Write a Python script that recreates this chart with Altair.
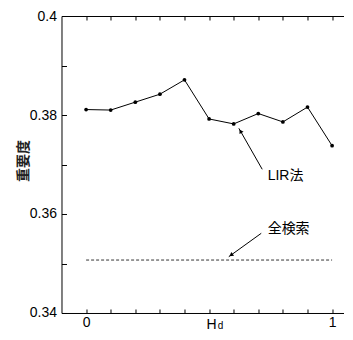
import altair as alt
import pandas as pd

# ---- data ----
hd = [0.0, 0.1, 0.2, 0.3, 0.4, 0.5, 0.6, 0.7, 0.8, 0.9, 1.0]
lir = [0.3811, 0.3810, 0.3826, 0.3842, 0.3871, 0.3792, 0.3782, 0.3803, 0.3786, 0.3816, 0.3738]
full_x = [0.0, 1.0]
full_y = [0.3507, 0.3507]

x_tick_values = [0.0, 0.1, 0.2, 0.3, 0.4, 0.5, 0.6, 0.7, 0.8, 0.9, 1.0]
x_label_values = [0, 1]
y_tick_values = [0.34, 0.35, 0.36, 0.37, 0.38, 0.39, 0.40]
y_label_values = [0.34, 0.36, 0.38, 0.40]

ann_text = ["LIR法", "全検索"]
ann_text_x = [0.738, 0.738]
ann_text_y = [0.36758, 0.35707]
arrow_tail_x = [0.716, 0.712]
arrow_tail_y = [0.36903, 0.3561]
arrow_tip_x = [0.621, 0.580]
arrow_tip_y = [0.37731, 0.35137]
arrow_angle = [330, 234]

x_title_parts = ["H", "d"]
x_title_x = [0.4898, 0.535]
x_title_y = [0.33677, 0.33677]
x_title_size = [14, 10]

y_title = ["重要度"]
y_title_x = [-0.252]
y_title_y = [0.3707]

# ---- layout ----
W = 1.15 * 246
H = 297
FONT = "Liberation Sans"
MIXED = "Liberation Sans, Noto Sans CJK JP"

xs = alt.Scale(domain=[-0.1, 1.05], nice=False, zero=False)
ys = alt.Scale(domain=[0.34, 0.40], nice=False, zero=False)

df = pd.DataFrame({"hd": hd, "lir": lir})
df_full = pd.DataFrame({"x": [full_x[0]], "x2": [full_x[1]], "y": [full_y[0]]})

head_frac = 0.07
df_arrow = pd.DataFrame({
    "x": arrow_tail_x, "y": arrow_tail_y,
    "x2": arrow_tip_x, "y2": arrow_tip_y,
    "hx": [t + (a - t) * head_frac for t, a in zip(arrow_tip_x, arrow_tail_x)],
    "hy": [t + (a - t) * head_frac for t, a in zip(arrow_tip_y, arrow_tail_y)],
    "angle": arrow_angle,
})
df_ann = pd.DataFrame({"t": ann_text, "x": ann_text_x, "y": ann_text_y})
df_xt = pd.DataFrame({"t": x_title_parts, "x": x_title_x, "y": x_title_y, "s": x_title_size})
df_yt = pd.DataFrame({"t": y_title, "x": y_title_x, "y": y_title_y})

# main line with labelled axes (bottom + left)
line = alt.Chart(df).mark_line(color="black", strokeWidth=1).encode(
    x=alt.X("hd:Q", scale=xs, axis=alt.Axis(
        orient="bottom", values=x_label_values, ticks=False, format="~g",
        labelPadding=3, title=None, grid=False, domain=True)),
    y=alt.Y("lir:Q", scale=ys, axis=alt.Axis(
        orient="left", values=y_label_values, ticks=False, format="~g",
        labelPadding=5, title=None, grid=False, domain=True)),
)

# points carry the inward ticks of bottom & left
points = alt.Chart(df).mark_circle(color="black", size=14, opacity=1).encode(
    x=alt.X("hd:Q", scale=xs, axis=alt.Axis(
        orient="top", offset=-H, values=x_tick_values, tickSize=4, labels=False,
        domain=False, title=None, grid=False)),
    y=alt.Y("lir:Q", scale=ys, axis=alt.Axis(
        orient="right", offset=-W, values=y_tick_values, tickSize=5, labels=False,
        domain=False, title=None, grid=False)),
)

# dashed full-search line carries the top frame with inward ticks
full = alt.Chart(df_full).mark_rule(color="#333333", strokeWidth=1, strokeDash=[3, 2]).encode(
    x=alt.X("x:Q", scale=xs, axis=alt.Axis(
        orient="bottom", offset=-H, values=x_tick_values, tickSize=4, labels=False,
        domain=True, title=None, grid=False)),
    x2="x2:Q",
    y=alt.Y("y:Q", scale=ys, axis=None),
)

arrows = alt.Chart(df_arrow).mark_rule(color="black", strokeWidth=1).encode(
    x=alt.X("x:Q", scale=xs, axis=None), y=alt.Y("y:Q", scale=ys, axis=None),
    x2="x2:Q", y2="y2:Q",
)
heads = alt.Chart(df_arrow).mark_point(shape="triangle-up", filled=True, color="black",
                                       size=22, opacity=1).encode(
    x=alt.X("hx:Q", scale=xs, axis=None), y=alt.Y("hy:Q", scale=ys, axis=None),
    angle=alt.Angle("angle:Q", scale=None),
)

ann = alt.Chart(df_ann).mark_text(align="left", baseline="middle", fontSize=14,
                                  font=MIXED, color="black").encode(
    x=alt.X("x:Q", scale=xs, axis=None), y=alt.Y("y:Q", scale=ys, axis=None), text="t:N",
)

xt = alt.Chart(df_xt).mark_text(align="left", baseline="alphabetic", font=FONT,
                                color="black").encode(
    x=alt.X("x:Q", scale=xs, axis=None), y=alt.Y("y:Q", scale=ys, axis=None), text="t:N",
    size=alt.Size("s:Q", scale=None),
)

yt = alt.Chart(df_yt).mark_text(align="center", baseline="middle", angle=270, fontSize=14,
                                fontWeight="bold", font="Noto Sans CJK JP",
                                color="#222222").encode(
    x=alt.X("x:Q", scale=xs, axis=None), y=alt.Y("y:Q", scale=ys, axis=None), text="t:N",
)

chart = alt.layer(line, points, full, arrows, heads, ann, xt, yt).resolve_axis(
    x="independent", y="independent"
).properties(
    width=W, height=H,
    autosize=alt.AutoSizeParams(type="none"),
    padding={"left": 53.5, "top": 8, "right": 0, "bottom": 19},
).configure_view(stroke=None).configure_axis(
    labelFont=FONT, labelFontSize=14, labelColor="black",
    domainColor="black", domainWidth=1, tickColor="black", tickWidth=1,
)

chart.save("out.html", embed_options={"renderer": "svg", "actions": False})
